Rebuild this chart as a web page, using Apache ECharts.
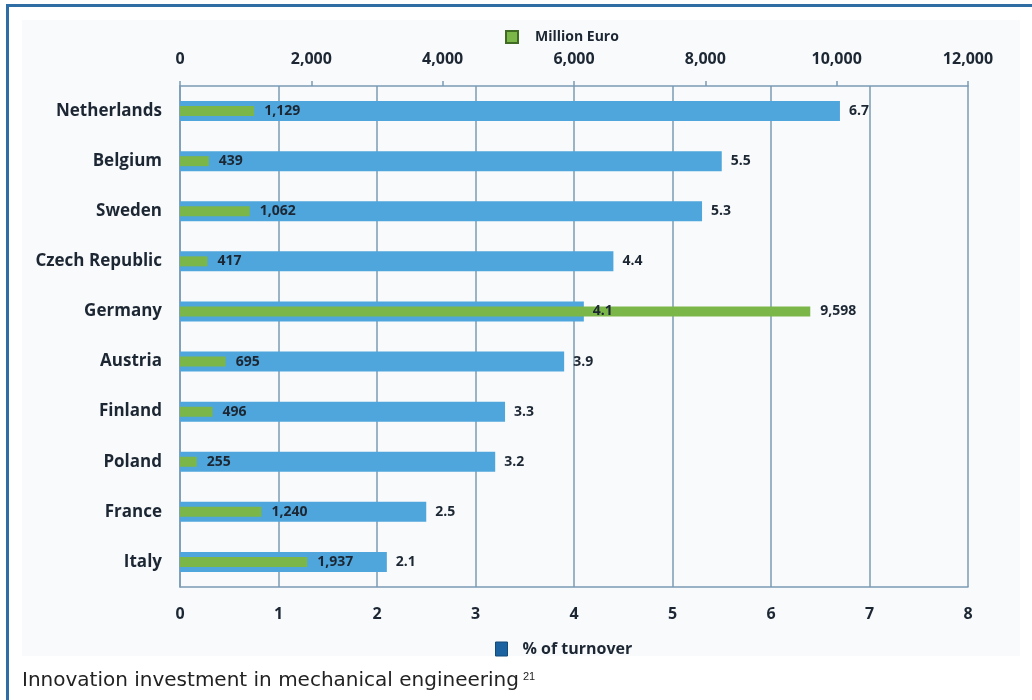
<!DOCTYPE html>
<html>
<head>
<meta charset="utf-8">
<script src="https://cdn.jsdelivr.net/npm/echarts@6/dist/echarts.min.js"></script>
<style>
  html, body { margin: 0; padding: 0; background: #fff; }
  #chart { width: 1032px; height: 700px; }
</style>
</head>
<body>
<div id="chart"></div>
<script>
// data
const countries = ['Netherlands', 'Belgium', 'Sweden', 'Czech Republic', 'Germany', 'Austria', 'Finland', 'Poland', 'France', 'Italy']
const turnoverPct = [6.7, 5.5, 5.3, 4.4, 4.1, 3.9, 3.3, 3.2, 2.5, 2.1]
const millionEuro = [1129, 439, 1062, 417, 9598, 695, 496, 255, 1240, 1937]

const gridColor = '#7a9bb3'
const labelColor = '#1c2733'
const font = '"Open Sans", "Noto Sans", sans-serif'

const chart = echarts.init(document.getElementById('chart'))

const valueLabel = {
  show: true,
  position: 'right',
  fontFamily: font,
  fontWeight: 'bold',
  fontSize: 14,
  color: labelColor,
}

chart.setOption({
  backgroundColor: '#fff',
  animation: false,
  graphic: [
    { type: 'rect', shape: { x: 22, y: 20, width: 998, height: 636 }, style: { fill: '#f9fafc' }, z: -10 },
    { type: 'rect', shape: { x: 6, y: 4, width: 1026, height: 3 }, style: { fill: '#2f6ea5' } },
    { type: 'rect', shape: { x: 6, y: 4, width: 3, height: 696 }, style: { fill: '#2f6ea5' } },
    {
      type: 'text',
      left: 22,
      top: 671,
      style: {
        text: 'Innovation investment in mechanical engineering{sup|21}',
        font: '20px "DejaVu Sans", sans-serif',
        fill: '#222',
        rich: { sup: { fontSize: 11, verticalAlign: 'top', padding: [0, 0, 9, 4], fill: '#222' } },
      },
    },
  ],
  legend: [
    {
      data: ['Million Euro'],
      left: 500,
      top: 25,
      icon: 'rect',
      itemWidth: 12,
      itemHeight: 12,
      itemStyle: { borderColor: '#3f6b22', borderWidth: 2 },
      textStyle: { fontFamily: font, fontWeight: 'bold', fontSize: 14, color: labelColor, padding: [0, 0, 0, 12] },
    },
    {
      data: ['% of turnover'],
      left: 490,
      top: 636,
      icon: 'rect',
      itemWidth: 12,
      itemHeight: 14,
      itemStyle: { color: '#1b63a0', borderColor: '#134b78', borderWidth: 1 },
      textStyle: { fontFamily: font, fontWeight: 'bold', fontSize: 16, color: labelColor, padding: [0, 0, 0, 10] },
    },
  ],
  grid: { left: 180, right: 64, top: 86, bottom: 113, containLabel: false },
  xAxis: [
    {
      type: 'value',
      position: 'top',
      min: 0,
      max: 12000,
      interval: 2000,
      axisLine: { show: true, lineStyle: { color: gridColor, width: 1.5 } },
      axisTick: { show: true, length: 5, lineStyle: { color: gridColor, width: 1.5 } },
      splitLine: { show: false },
      axisLabel: {
        margin: 19,
        fontFamily: font,
        fontWeight: 'bold',
        fontSize: 16,
        color: labelColor,
        formatter: (v) => v.toLocaleString('en-US'),
      },
    },
    {
      type: 'value',
      position: 'bottom',
      min: 0,
      max: 8,
      interval: 1,
      axisLine: { show: true, lineStyle: { color: gridColor, width: 1.5 } },
      axisTick: { show: false },
      splitLine: { show: true, lineStyle: { color: gridColor, width: 1.5 } },
      axisLabel: { margin: 19, fontFamily: font, fontWeight: 'bold', fontSize: 16, color: labelColor },
    },
  ],
  yAxis: [
    {
      type: 'category',
      data: countries,
      inverse: true,
      axisLine: { show: true, lineStyle: { color: gridColor, width: 1.5 } },
      axisTick: { show: false },
      axisLabel: { margin: 18, fontFamily: font, fontWeight: 'bold', fontSize: 17, color: labelColor },
    },
    { type: 'category', data: countries, inverse: true, show: false },
    { type: 'category', data: countries, inverse: true, show: false },
  ],
  series: [
    {
      name: '% of turnover',
      type: 'bar',
      xAxisIndex: 1,
      yAxisIndex: 0,
      data: turnoverPct,
      barWidth: 20,
      itemStyle: { color: '#4fa6dc' },
      z: 2,
    },
    {
      name: 'Million Euro',
      type: 'bar',
      xAxisIndex: 0,
      yAxisIndex: 1,
      data: millionEuro,
      barWidth: 10,
      itemStyle: { color: '#7ab648' },
      label: { ...valueLabel, distance: 10, formatter: (p) => p.value.toLocaleString('en-US') },
      z: 3,
    },
    {
      // transparent copy of the % bars so their labels sit above the green bars
      name: 'pctLabels',
      type: 'bar',
      xAxisIndex: 1,
      yAxisIndex: 2,
      data: turnoverPct,
      barWidth: 20,
      itemStyle: { color: 'rgba(0,0,0,0)' },
      label: { ...valueLabel, distance: 9, formatter: (p) => p.value.toFixed(1) },
      silent: true,
      z: 5,
    },
  ],
})
</script>
</body>
</html>
